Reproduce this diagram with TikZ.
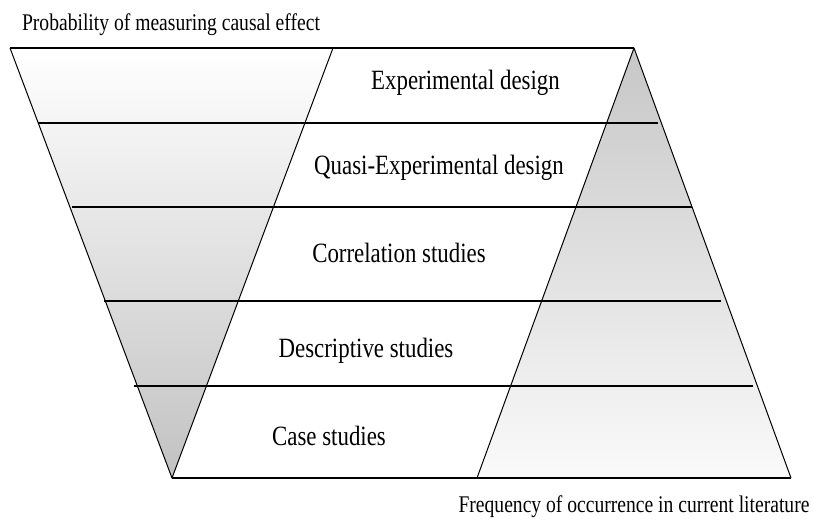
\documentclass[tikz,border=0pt]{standalone}
\usepackage{fontspec}
\setmainfont{Liberation Serif}[FakeStretch=0.82]
\usepackage{tikz}
\usetikzlibrary{positioning}

\tikzset{
  band/.style={anchor=base,font=\fontsize{27.9}{30}\selectfont},
  axis label/.style={anchor=base,font=\fontsize{23.9}{26}\selectfont},
  rung/.style={line width=1.3pt},
  edge/.style={line width=1pt}
}

\begin{document}
\begin{tikzpicture}[x=1pt,y=-1pt]
\useasboundingbox (0,0) rectangle (814,531);
%left wedge, light at the top and dark at the apex
\shade[top color=white,bottom color=black!24] (10,48) -- (333,48) -- (172,478) -- cycle;
\draw[edge,line join=round] (10,48) -- (172,478) -- (333,48);
%right wedge, dark at the apex and light at the base
\shade[top color=black!22,bottom color=black!2] (634,48) -- (791,478) -- (477,478) -- cycle;
\draw[edge,line join=round] (477,478) -- (634,48) -- (791,478);
%top and bottom edges
\draw[rung] (10,48) -- (634,48);
\draw[rung] (172,478) -- (791,478);
%rungs between the levels
\draw[rung] (38,123) -- (658,123);
\draw[rung] (72,207) -- (692,207);
\draw[rung] (104,301) -- (721,301);
\draw[rung] (134,386) -- (753,386);
%levels
\node[band] (exp) at (465.5,89) {Experimental design};
\node[band] (quasi) at (439,174) {Quasi-Experimental design};
\node[band] (corr) at (399,262) {Correlation studies};
\node[band] (descr) at (366,357) {Descriptive studies};
\node[band] (case) at (329,445) {Case studies};
%axis labels
\node[axis label] (prob) at (171,30) {Probability of measuring causal effect};
\node[axis label] (freq) at (634,512) {Frequency of occurrence in current literature};
\end{tikzpicture}
\end{document}
